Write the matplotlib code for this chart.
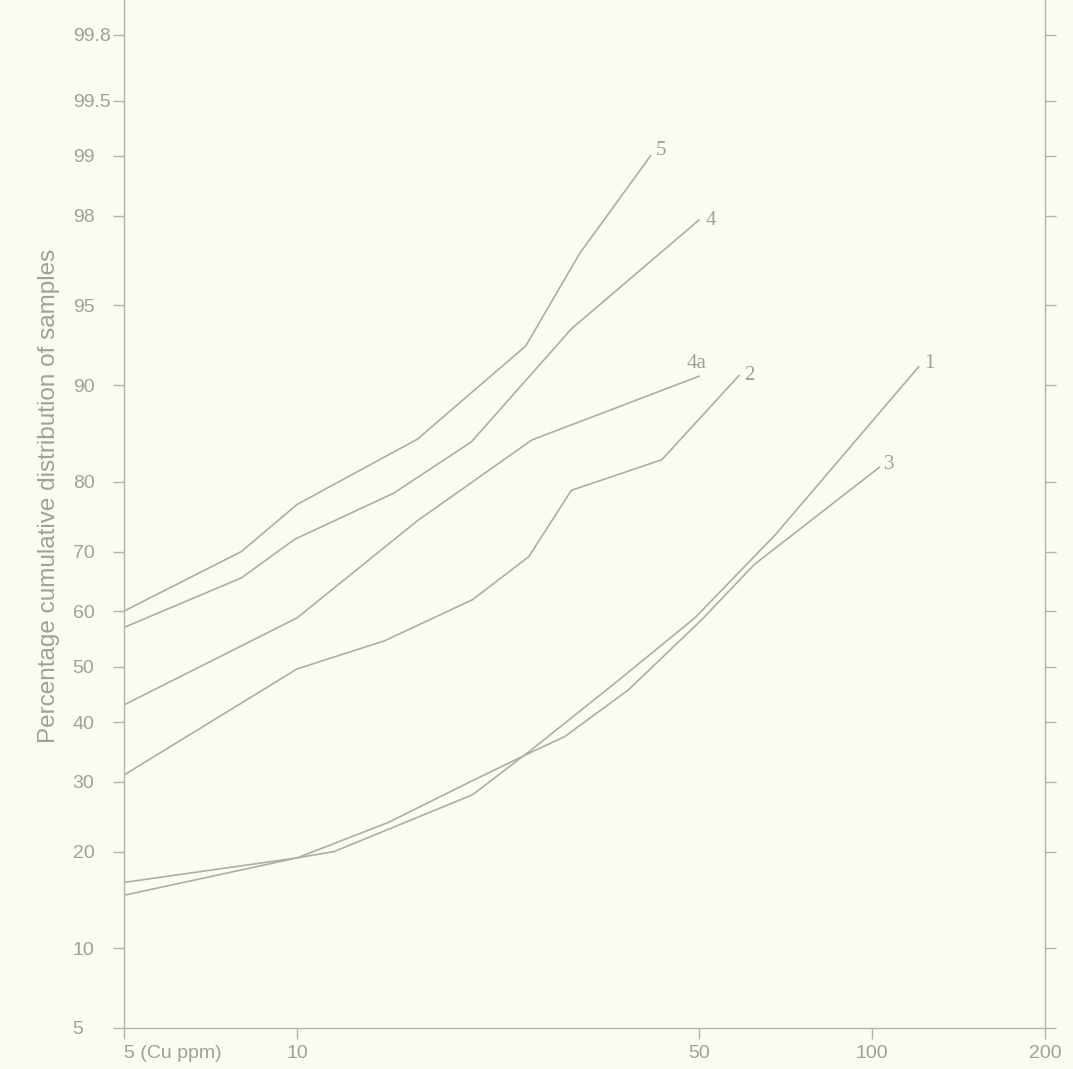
import math
import numpy as np
import matplotlib
matplotlib.use('Agg')
import matplotlib.pyplot as plt
from matplotlib.ticker import NullLocator
from matplotlib.transforms import ScaledTranslation

# Cu content (ppm) against cumulative percentage of samples
cu_1 = [5, 10, 11.6, 20.2, 25.6, 36.3, 49.2, 67.9, 120.6]
pct_1 = [16.3, 19.2, 20.0, 28.0, 35.3, 47.6, 58.8, 72.6, 91.4]

cu_2 = [5, 10, 14.2, 20.2, 25.3, 30.0, 43.1, 58.7]
pct_2 = [31.1, 49.6, 54.7, 62.0, 69.2, 78.9, 82.7, 90.75]

cu_3 = [5, 10, 14.4, 20.3, 25.6, 29.2, 37.7, 50.6, 62.4, 103]
pct_3 = [14.9, 19.2, 23.9, 30.3, 34.9, 37.5, 45.8, 58.5, 67.9, 81.8]

cu_4 = [5, 8, 9.9, 14.7, 20.1, 30, 50]
pct_4 = [57.1, 65.7, 71.9, 78.5, 84.7, 93.8, 97.9]

cu_4a = [5, 10, 16.2, 25.6, 50]
pct_4a = [43.1, 58.8, 74.7, 84.9, 90.7]

cu_5 = [5, 8, 10, 16.2, 25, 31, 41.2]
pct_5 = [60, 70, 77, 85, 92.8, 97, 99]

series = [('1', cu_1, pct_1, (4, 2)),
          ('2', cu_2, pct_2, (4, 0)),
          ('3', cu_3, pct_3, (3, 2)),
          ('4', cu_4, pct_4, (5, 0)),
          ('4a', cu_4a, pct_4a, (-9, 9)),
          ('5', cu_5, pct_5, (4, 4))]

y_ticks = [5, 10, 20, 30, 40, 50, 60, 70, 80, 90, 95, 98, 99, 99.5, 99.8]
y_labels = ['5', '10', '20', '30', '40', '50', '60', '70', '80', '90', '95', '98', '99', '99.5', '99.8']
x_ticks = [5, 10, 50, 100, 200]
x_labels = ['5 (Cu ppm)', '10', '50', '100', '200']

# probability (normal) scale for the y axis
A = [-3.969683028665376e+01, 2.209460984245205e+02, -2.759285104469687e+02,
     1.383577518672690e+02, -3.066479806614716e+01, 2.506628277459239e+00]
B = [-5.447609879822406e+01, 1.615858368580409e+02, -1.556989798598866e+02,
     6.680131188771972e+01, -1.328068155288572e+01]
C = [-7.784894002430293e-03, -3.223964580411365e-01, -2.400758277161838e+00,
     -2.549732539343734e+00, 4.374664141464968e+00, 2.938163982698783e+00]
D = [7.784695709041462e-03, 3.224671290700398e-01, 2.445134137142996e+00,
     3.754408661907416e+00]


def ppf(p):
    p = min(max(p, 1e-9), 1 - 1e-9)
    if p < 0.02425:
        q = math.sqrt(-2 * math.log(p))
        return (((((C[0]*q+C[1])*q+C[2])*q+C[3])*q+C[4])*q+C[5]) / ((((D[0]*q+D[1])*q+D[2])*q+D[3])*q+1)
    if p > 1 - 0.02425:
        q = math.sqrt(-2 * math.log(1 - p))
        return -(((((C[0]*q+C[1])*q+C[2])*q+C[3])*q+C[4])*q+C[5]) / ((((D[0]*q+D[1])*q+D[2])*q+D[3])*q+1)
    q = p - 0.5
    r = q * q
    return (((((A[0]*r+A[1])*r+A[2])*r+A[3])*r+A[4])*r+A[5])*q / (((((B[0]*r+B[1])*r+B[2])*r+B[3])*r+B[4])*r+1)


_fwd = np.vectorize(lambda v: ppf(v / 100.0), otypes=[float])
_inv = np.vectorize(lambda z: 50.0 * (1 + math.erf(z / math.sqrt(2))), otypes=[float])


def forward(y):
    return _fwd(np.asarray(y, dtype=float))


def inverse(z):
    return _inv(np.asarray(z, dtype=float))


bg = '#fcfbf3'
line_c = '#aeae9f'
text_c = '#a0a093'
axis_c = '#b4b4a6'

fig = plt.figure(figsize=(10.73, 10.69), dpi=100, facecolor=bg)
ax = fig.add_axes([0.1156, 0.0384, 0.8583, 0.9616], facecolor=bg)

ax.set_xscale('log')
ax.set_yscale('function', functions=(forward, inverse))

for name, x, y, off in series:
    ax.plot(x, y, color=line_c, lw=1.2)
    ax.annotate(name, (x[-1], y[-1]), xytext=off, textcoords='offset points',
                family='Liberation Serif', fontsize=15, color=text_c, va='center')

ax.set_xlim(5, 200)
ax.set_ylim(5, 99.88)

ax.set_yticks(y_ticks, y_labels, ha='left')
ax.set_xticks(x_ticks, x_labels)
ax.xaxis.set_minor_locator(NullLocator())
ax.yaxis.set_minor_locator(NullLocator())
first = ax.get_xticklabels()[0]
first.set_ha('left')
first.set_transform(first.get_transform() + ScaledTranslation(-6 / 100, 0, fig.dpi_scale_trans))

for lab in ax.get_yticklabels() + ax.get_xticklabels():
    lab.set_family('Liberation Sans')
    lab.set_fontsize(14)
    lab.set_color(text_c)

ax.tick_params(axis='y', direction='out', length=8, width=1, color=axis_c,
               right=True, labelright=False, pad=29)
ax.tick_params(axis='x', direction='out', length=8, width=1, color=axis_c, pad=4)

ax.spines['top'].set_visible(False)
for s in ['left', 'right', 'bottom']:
    ax.spines[s].set_color(axis_c)
    ax.spines[s].set_linewidth(1)

ax.set_ylabel('Percentage cumulative distribution of samples', family='Liberation Sans',
              fontsize=17.5, color=text_c)
ax.yaxis.set_label_coords(-0.07, 0.518)

fig.savefig('out.png', dpi=100, facecolor=bg)
